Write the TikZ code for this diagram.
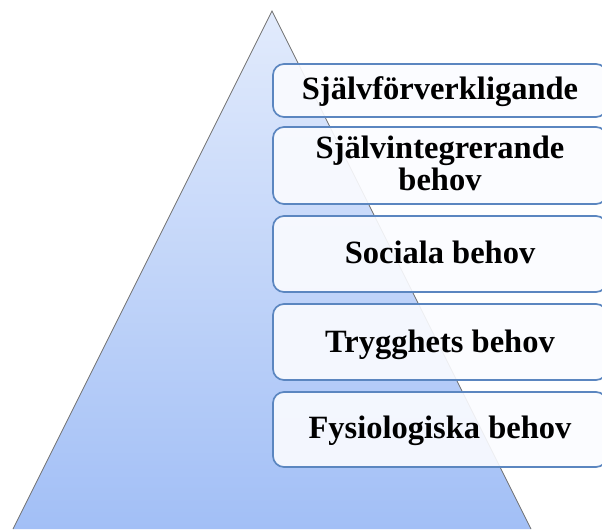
\documentclass[tikz,border=0pt]{standalone}
\usepackage{fontspec}
\setmainfont{Liberation Serif}
\definecolor{triTop}{HTML}{E2EBFC}
\definecolor{triBot}{HTML}{A2BFF6}
\definecolor{triEdge}{HTML}{707070}
\definecolor{boxEdge}{HTML}{5B86C0}
\definecolor{boxFill}{HTML}{FBFCFF}
\begin{document}
\begin{tikzpicture}[x=1pt,y=-1pt,
  levelbox/.style={draw=boxEdge, line width=1.7pt, fill=boxFill, fill opacity=0.9,
    rounded corners=11pt, inner sep=0pt, minimum width=334pt},
  leveltext/.style={font=\fontsize{32.5}{33}\selectfont\bfseries, anchor=base, inner sep=0pt, align=center}]
\useasboundingbox (0,0) rectangle (602,530);
\clip (0,0) rectangle (602,530);
\fill[white] (0,0) rectangle (602,530);
% pyramid
\coordinate (apex) at (272,11);
\coordinate (bl) at (13,529);
\coordinate (br) at (531,529);
\shade[top color=triTop, bottom color=triBot] (apex) -- (br) -- (bl) -- cycle;
\draw[triEdge, line width=0.7pt] (bl) -- (apex) -- (br);
% boxes
\node[levelbox, minimum height=53pt] (b1) at (440,90.5) {};
\node[levelbox, minimum height=77pt] (b2) at (440,165.5) {};
\node[levelbox, minimum height=76pt] (b3) at (440,254) {};
\node[levelbox, minimum height=76pt] (b4) at (440,342) {};
\node[levelbox, minimum height=75pt] (b5) at (440,429.5) {};
% texts
\node[leveltext] (t1) at (440,99) {Självförverkligande};
\node[leveltext] (t2a) at (440,158) {Självintegrerande};
\node[leveltext] (t2b) at (440,190) {behov};
\node[leveltext] (t3) at (440,263) {Sociala behov};
\node[leveltext] (t4) at (440,352) {Trygghets behov};
\node[leveltext] (t5) at (440,438) {Fysiologiska behov};
\end{tikzpicture}
\end{document}
